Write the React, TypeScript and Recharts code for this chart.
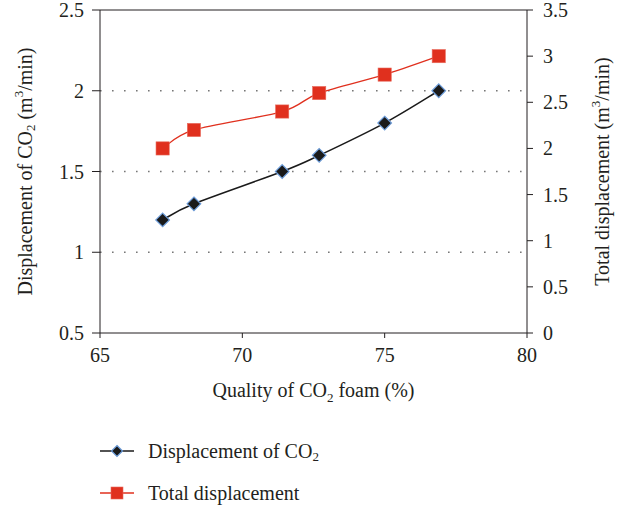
import React from "react";
import {
  LineChart,
  Line,
  XAxis,
  YAxis,
  CartesianGrid,
  ReferenceLine,
  Legend,
  Label,
} from "recharts";

const quality = [67.2, 68.3, 71.4, 72.7, 75.0, 76.9];
const co2Displacement = [1.2, 1.3, 1.5, 1.6, 1.8, 2.0];
const totalDisplacement = [2.0, 2.2, 2.4, 2.6, 2.8, 3.0];
const xTicks = [65, 70, 75, 80];
const leftTicks = [0.5, 1, 1.5, 2, 2.5];
const rightTicks = [0, 0.5, 1, 1.5, 2, 2.5, 3, 3.5];
const gridValues = [1, 1.5, 2];
const seriesNames = ["Displacement of CO", "Total displacement"];

const data = quality.map((q, i) => ({
  q,
  co2: co2Displacement[i],
  total: totalDisplacement[i],
}));

const FONT = "'Liberation Serif', 'Times New Roman', serif";
const TEXT = "#231f20";
const RED = "#e0301e";
const BLACK = "#1a1a1a";
const BLUE = "#6b9bd8";
const FS = 20;
const SUB = 13;

// Catmull-Rom style smoothing (like spreadsheet "smoothed line")
const smoothCurve = (context: any) => {
  let pts: number[][] = [];
  return {
    areaStart() {},
    areaEnd() {},
    lineStart() {
      pts = [];
    },
    point(x: number, y: number) {
      pts.push([+x, +y]);
    },
    lineEnd() {
      if (!pts.length) return;
      context.moveTo(pts[0][0], pts[0][1]);
      for (let i = 0; i < pts.length - 1; i++) {
        const p0 = pts[Math.max(0, i - 1)];
        const p1 = pts[i];
        const p2 = pts[i + 1];
        const p3 = pts[Math.min(pts.length - 1, i + 2)];
        const c1x = p1[0] + (p2[0] - p0[0]) / 6;
        const c1y = p1[1] + (p2[1] - p0[1]) / 6;
        const c2x = p2[0] - (p3[0] - p1[0]) / 6;
        const c2y = p2[1] - (p3[1] - p1[1]) / 6;
        context.bezierCurveTo(c1x, c1y, c2x, c2y, p2[0], p2[1]);
      }
    },
  };
};

const Diamond = ({ cx, cy, s = 6.8 }: any) => (
  <path
    d={`M${cx},${cy - s}L${cx + s},${cy}L${cx},${cy + s}L${cx - s},${cy}Z`}
    fill={BLACK}
    stroke={BLUE}
    strokeWidth={1.2}
  />
);

const Square = ({ cx, cy, s = 6.6 }: any) => (
  <rect x={cx - s} y={cy - s} width={2 * s} height={2 * s} fill={RED} stroke="#e86a5c" strokeWidth={0.6} />
);

const XTick = ({ x, y, payload }: any) => (
  <text x={x} y={y} dy="0.71em" textAnchor="middle" fontSize={FS} fill={TEXT} fontFamily={FONT}>
    {payload.value}
  </text>
);

const LeftTick = ({ x, y, payload }: any) => (
  <text x={x} y={y} textAnchor="end" dominantBaseline="central" fontSize={FS} fill={TEXT} fontFamily={FONT}>
    {payload.value}
  </text>
);

const RightTick = ({ x, y, payload }: any) => (
  <text x={x} y={y} textAnchor="start" dominantBaseline="central" fontSize={FS} fill={TEXT} fontFamily={FONT}>
    {payload.value}
  </text>
);

const LegendContent = () => (
  <svg width={360} height={84} style={{ fontFamily: FONT }}>
    <line x1={100} x2={134} y1={23} y2={23} stroke={BLACK} strokeWidth={1.5} />
    <Diamond cx={117} cy={23} s={5.5} />
    <text x={148} y={23} dominantBaseline="central" fontSize={FS} fill={TEXT} fontFamily={FONT}>
      {seriesNames[0]}
      <tspan dy={5} fontSize={SUB}>2</tspan>
    </text>
    <line x1={100} x2={134} y1={65} y2={65} stroke={RED} strokeWidth={1.3} />
    <Square cx={117} cy={65} s={6} />
    <text x={148} y={65} dominantBaseline="central" fontSize={FS} fill={TEXT} fontFamily={FONT}>
      {seriesNames[1]}
    </text>
  </svg>
);

const XTitle = ({ viewBox }: any) => {
  const cx = viewBox.x + viewBox.width / 2;
  return (
    <text x={cx} y={397} textAnchor="middle" fontSize={FS} fill={TEXT} fontFamily={FONT}>
      Quality of CO<tspan dy={5} fontSize={SUB}>2</tspan>
      <tspan dy={-5}> foam (%)</tspan>
    </text>
  );
};

const LeftTitle = ({ viewBox }: any) => {
  const cx = 25;
  const cy = viewBox.y + viewBox.height / 2;
  return (
    <text
      x={cx}
      y={cy}
      transform={`rotate(-90, ${cx}, ${cy})`}
      textAnchor="middle"
      dominantBaseline="central"
      fontSize={FS}
      fill={TEXT}
      fontFamily={FONT}
    >
      Displacement of CO<tspan dy={5} fontSize={SUB}>2</tspan>
      <tspan dy={-5}> (m</tspan>
      <tspan dy={-7} fontSize={SUB}>3</tspan>
      <tspan dy={7}>/min)</tspan>
    </text>
  );
};

const RightTitle = ({ viewBox }: any) => {
  const cx = 602;
  const cy = viewBox.y + viewBox.height / 2;
  return (
    <text
      x={cx}
      y={cy}
      transform={`rotate(-90, ${cx}, ${cy})`}
      textAnchor="middle"
      dominantBaseline="central"
      fontSize={FS}
      fill={TEXT}
      fontFamily={FONT}
    >
      Total displacement (m<tspan dy={-7} fontSize={SUB}>3</tspan>
      <tspan dy={7}>/min)</tspan>
    </text>
  );
};

export default function App() {
  return (
    <div style={{ width: 624, height: 510, position: "relative" }}>
      <style>{`body{margin:0;}`}</style>
      <LineChart
        width={624}
        height={510}
        data={data}
        margin={{ top: 10, right: 0, left: 0, bottom: 117 }}
        style={{ fontFamily: FONT }}
      >
        <CartesianGrid
          horizontal
          vertical={false}
          yAxisId="left"
          horizontalValues={gridValues}
          stroke="#777"
          strokeWidth={1.6}
          strokeDasharray="1.6 10.4"
        />
        <XAxis
          dataKey="q"
          type="number"
          domain={[65, 80]}
          ticks={xTicks}
          height={60}
          tickSize={5}
          tickMargin={10}
          stroke="#231f20"
          tick={<XTick />}
          interval={0}
        >
          <Label content={<XTitle />} />
        </XAxis>
        <YAxis
          yAxisId="left"
          orientation="left"
          domain={[0.5, 2.5]}
          ticks={leftTicks}
          width={100}
          tickSize={8}
          tickMargin={8}
          stroke="#231f20"
          tick={<LeftTick />}
          interval={0}
        >
          <Label content={<LeftTitle />} />
        </YAxis>
        <YAxis
          yAxisId="right"
          orientation="right"
          domain={[0, 3.5]}
          ticks={rightTicks}
          width={97}
          tickSize={6}
          tickMargin={10}
          stroke="#231f20"
          tick={<RightTick />}
          interval={0}
        >
          <Label content={<RightTitle />} />
        </YAxis>
        <ReferenceLine yAxisId="left" y={2.5} stroke="#231f20" strokeWidth={1} />
        <Line
          yAxisId="left"
          type={smoothCurve as any}
          dataKey="co2"
          stroke={BLACK}
          strokeWidth={1.5}
          isAnimationActive={false}
          dot={(p: any) => <Diamond key={`d${p.index}`} cx={p.cx} cy={p.cy} />}
          activeDot={false}
        />
        <Line
          yAxisId="right"
          type={smoothCurve as any}
          dataKey="total"
          stroke={RED}
          strokeWidth={1.3}
          isAnimationActive={false}
          dot={(p: any) => <Square key={`s${p.index}`} cx={p.cx} cy={p.cy} />}
          activeDot={false}
        />
        <Legend
          layout="vertical"
          align="center"
          verticalAlign="middle"
          content={<LegendContent />}
          wrapperStyle={{ left: 0, top: 428, width: 360, height: 84 }}
        />
      </LineChart>
    </div>
  );
}
